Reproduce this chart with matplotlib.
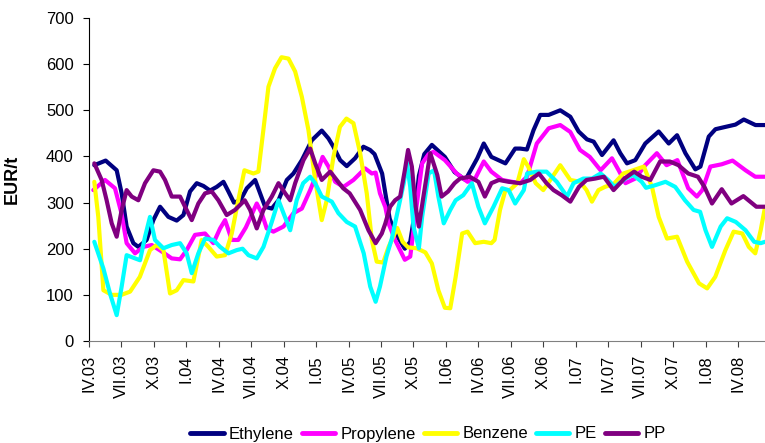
import matplotlib
matplotlib.use("Agg")
import matplotlib.pyplot as plt

plt.rcParams['font.family'] = ['Liberation Sans', 'DejaVu Sans']

# x positions are months since April 2003 (IV.03 = 0)
tick_labels = ["IV.03", "VII.03", "X.03", "I.04", "IV.04", "VII.04", "X.04",
               "I.05", "IV.05", "VII.05", "X.05", "I.06", "IV.06", "VII.06",
               "X.06", "I.07", "IV.07", "VII.07", "X.07", "I.08", "IV.08"]

eth_m = [0.49, 1.54, 2.56, 3.02, 3.48, 4.10, 4.56, 5.33, 5.95, 6.57, 7.34, 8.11, 8.73,
         9.34, 9.96, 10.58, 11.19, 11.81, 12.43, 12.89, 13.4, 14.0, 14.59, 15.36, 16.28,
         16.9, 17.52, 18.29, 18.9, 19.68, 20.6, 21.52, 22.14, 22.6, 23.22, 23.83, 24.6,
         25.37, 25.99, 26.4, 27.1, 27.4, 27.8, 28.3, 29.2, 29.7, 30.2, 30.5, 31.0, 31.7,
         32.9, 33.8, 34.8, 35.9, 36.5, 37.2, 38.5, 39.4, 39.87, 40.49, 41.1, 41.72, 42.5,
         43.57, 44.5, 45.27, 46.04, 46.66, 47.43, 48.5, 49.12, 49.74, 50.51, 51.43, 52.67,
         53.6, 54.37, 55.14, 56.06, 56.53, 57.3, 57.92, 58.84, 59.77, 60.54, 61.62, 62.54]
eth_v = [381, 391, 370, 320, 248, 212, 204, 219, 262, 291, 269, 261, 273,
         324, 342, 336, 326, 334, 345, 324, 300, 305, 331, 349, 291,
         287, 305, 349, 363, 392, 435, 456, 439, 421, 392, 379, 396,
         421, 414, 405, 363, 320, 265, 235, 200, 215, 290, 358, 405, 425,
         399, 366, 349, 396, 428, 399, 385, 417, 417, 415, 457, 490, 490,
         500, 486, 454, 437, 432, 403, 435, 407, 385, 392, 428, 454,
         428, 446, 407, 372, 378, 443, 459, 464, 469, 480, 468, 468]

pro_m = [0.4, 1.48, 2.4, 3.0, 3.48, 4.26, 5.03, 5.8, 6.72, 7.65, 8.42, 9.03, 9.8, 10.73,
         11.5, 12.12, 12.58, 13.2, 13.8, 14.5, 15.51, 15.97, 16.43, 17.05, 17.98, 18.9,
         19.68, 20.45, 21.07, 21.6, 22.14, 22.76, 23.53, 24.45, 25.53, 26.15, 26.5, 26.9,
         27.4, 27.69, 28.3, 29.2, 29.7, 30.2, 30.8, 31.4, 31.85, 32.9, 34.0, 35.0, 35.7,
         36.5, 37.2, 38.2, 39.1, 39.87, 40.5, 41.4, 42.5, 43.57, 44.5, 45.4, 46.3, 47.3,
         48.35, 48.97, 49.6, 50.5, 51.43, 52.5, 53.4, 54.4, 55.4, 56.2, 56.7, 57.45, 58.5,
         59.5, 60.7, 61.6, 62.54]
pro_v = [327, 349, 331, 277, 212, 190, 204, 208, 194, 179, 177, 197, 230, 233,
         212, 244, 262, 219, 219, 246, 298, 277, 244, 237, 248, 277,
         287, 327, 363, 399, 378, 345, 334, 349, 374, 363, 365, 320,
         290, 255, 219, 176, 183, 277, 385, 405, 410, 392, 363, 345, 352,
         389, 367, 349, 345, 342, 356, 428, 461, 468, 453, 414, 399, 370,
         396, 370, 342, 352, 381, 407, 381, 392, 331, 313, 327, 378, 383,
         391, 370, 356, 356]

ben_m = [0.49, 0.86, 1.33, 2.1, 3.0, 3.8, 4.7, 5.64, 6.26, 6.88, 7.49, 8.11, 8.73, 9.65,
         10.42, 11.04, 11.81, 12.58, 13.2, 13.8, 14.37, 15.2, 15.66, 16.12, 16.59, 17.2,
         17.8, 18.44, 19.06, 19.68, 20.29, 20.91, 21.52, 21.98, 22.6, 23.2, 23.8, 24.45,
         25.07, 25.68, 26.15, 26.6, 27.2, 27.7, 28.5, 29.0, 29.5, 30.3, 31.1, 31.7, 32.3,
         32.9, 33.4, 33.9, 34.5, 35.0, 35.7, 36.5, 37.2, 37.5, 38.0, 38.5, 38.9, 39.6,
         40.2, 40.6, 41.3, 42.0, 42.65, 43.57, 44.5, 45.4, 46.0, 46.5, 47.1, 47.7, 48.5,
         49.4, 50.3, 51.3, 52.05, 52.67, 53.44, 54.37, 55.3, 56.4, 57.15, 57.9, 58.84,
         59.6, 60.4, 61.0, 61.6, 62.1, 62.5]
ben_v = [345, 269, 110, 100, 100, 107, 139, 197, 208, 197, 103, 110, 132, 129,
         219, 204, 183, 186, 233, 305, 370, 363, 367, 457, 551, 591,
         615, 612, 584, 529, 457, 349, 262, 305, 399, 464, 482, 472,
         407, 320, 219, 172, 170, 204, 245, 215, 203, 201, 192, 168, 110,
         72, 71, 139, 233, 237, 212, 215, 212, 219, 284, 327, 327, 342,
         394, 378, 342, 327, 349, 381, 349, 345, 327, 302, 327, 334, 340,
         363, 370, 378, 334, 269, 222, 226, 172, 125, 114, 139, 197,
         237, 233, 204, 190, 240, 290]

pe_m = [0.49, 1.33, 1.94, 2.56, 3.02, 3.48, 4.26, 4.72, 5.18, 5.64, 6.1, 6.88, 7.65, 8.42,
        9.03, 9.5, 10.11, 10.73, 11.5, 12.12, 12.89, 13.66, 14.2, 14.74, 15.51, 16.13,
        16.9, 17.52, 17.98, 18.6, 19.2, 19.8, 20.45, 20.91, 21.52, 22.45, 23.06, 23.83,
        24.6, 25.4, 26.0, 26.5, 26.9, 27.5, 28.0, 28.5, 29.1, 29.4, 29.7, 30.0, 30.5,
        30.8, 31.4, 31.9, 32.3, 32.8, 33.4, 33.9, 34.6, 35.4, 36.0, 36.6, 37.4, 38.2,
        38.8, 39.4, 40.2, 40.5, 41.4, 42.3, 43.25, 44.2, 44.8, 45.7, 46.5, 47.3, 48.0,
        48.6, 49.6, 50.3, 51.1, 51.5, 52.4, 53.3, 54.2, 55.1, 55.9, 56.5, 57.0, 57.6,
        58.4, 59.0, 59.8, 60.7, 61.5, 62.1, 62.5]
pe_v = [215, 157, 103, 56, 118, 186, 179, 175, 226, 269, 219, 201, 208, 212,
        190, 147, 190, 222, 219, 204, 190, 197, 200, 186, 179, 204,
        258, 305, 277, 240, 305, 342, 356, 342, 313, 302, 277, 258,
        248, 190, 118, 85, 118, 183, 222, 277, 342, 385, 334, 248, 201,
        269, 363, 370, 313, 255, 284, 305, 316, 342, 291, 255, 291, 331,
        327, 298, 327, 363, 367, 367, 345, 313, 342, 352, 352, 363, 349,
        334, 352, 360, 345, 332, 338, 345, 334, 305, 284, 280, 240, 204,
        248, 266, 258, 240, 215, 212, 215]

pp_m = [0.49, 1.17, 1.63, 2.1, 2.56, 3.02, 3.48, 3.95, 4.56, 5.18, 5.95, 6.57, 7.03, 7.65,
        8.42, 8.88, 9.5, 10.11, 10.73, 11.35, 11.96, 12.73, 13.5, 14.4, 14.9, 15.51,
        16.13, 16.9, 17.52, 18.14, 18.6, 19.06, 19.83, 20.45, 20.91, 21.52, 22.3, 22.9,
        23.5, 24.1, 25.07, 25.84, 26.5, 27.07, 27.4, 27.84, 28.3, 28.77, 29.2, 29.5,
        29.85, 30.2, 30.5, 30.9, 31.55, 32.2, 32.6, 33.2, 33.8, 34.3, 35.2, 36.0, 36.6,
        37.2, 37.9, 38.8, 39.87, 40.8, 41.6, 42.3, 42.95, 43.7, 44.5, 45.3, 46.0, 46.8,
        47.6, 48.5, 49.5, 50.4, 51.1, 51.9, 52.8, 53.7, 54.5, 55.4, 56.3, 56.9, 57.6,
        58.5, 59.4, 60.5, 61.7, 62.5]
pp_v = [385, 349, 305, 255, 226, 284, 327, 313, 305, 342, 370, 367, 349, 313,
        313, 291, 262, 298, 320, 324, 305, 273, 284, 305, 284, 244,
        284, 313, 342, 320, 305, 342, 392, 417, 385, 349, 367, 349,
        331, 320, 284, 240, 212, 233, 255, 291, 305, 313, 370, 414,
        378, 291, 248, 310, 407, 360, 313, 324, 342, 352, 356, 345, 313,
        342, 349, 345, 342, 349, 363, 342, 327, 316, 302, 334, 349, 352,
        356, 327, 352, 367, 356, 349, 389, 389, 381, 363, 356, 334, 298,
        329, 298, 314, 291, 291]

series = [
    ("Ethylene", eth_m, eth_v, "#000080"),
    ("Propylene", pro_m, pro_v, "#FF00FF"),
    ("Benzene", ben_m, ben_v, "#FFFF00"),
    ("PE", pe_m, pe_v, "#00FFFF"),
    ("PP", pp_m, pp_v, "#800080"),
]

fig = plt.figure(figsize=(7.65, 4.43), dpi=100)
ax = fig.add_axes([89 / 765, 102 / 443, 676 / 765, 323 / 443])

for name, xs, ys, col in series:
    ax.plot(xs, ys, color=col, lw=3.0, label=name,
            solid_joinstyle='round', solid_capstyle='round')

ax.set_xlim(0, 62.5)
ax.set_ylim(0, 700)
ax.set_yticks(range(0, 701, 100))
ax.set_xticks([3 * i for i in range(len(tick_labels))])
ax.set_xticklabels(tick_labels, rotation=90, fontsize=12)
ax.tick_params(axis='y', labelsize=12, direction='out', length=4, pad=7)
ax.tick_params(axis='x', direction='out', length=4, pad=6, color='#404040')

for s in ['top', 'right']:
    ax.spines[s].set_visible(False)
ax.spines['left'].set_color('black')
ax.spines['bottom'].set_color('#808080')

ax.set_ylabel("EUR/t", fontsize=13, fontweight='bold')
ax.yaxis.set_label_coords(-0.101, 0.5)

leg = fig.legend(loc='center', bbox_to_anchor=(428 / 765, 1 - 434 / 443), ncol=5,
                 frameon=False, fontsize=12, handlelength=2.0, handletextpad=0.3,
                 columnspacing=0.5, borderaxespad=0)
for line in leg.get_lines():
    line.set_linewidth(3.5)

fig.savefig("out.png", dpi=100)
